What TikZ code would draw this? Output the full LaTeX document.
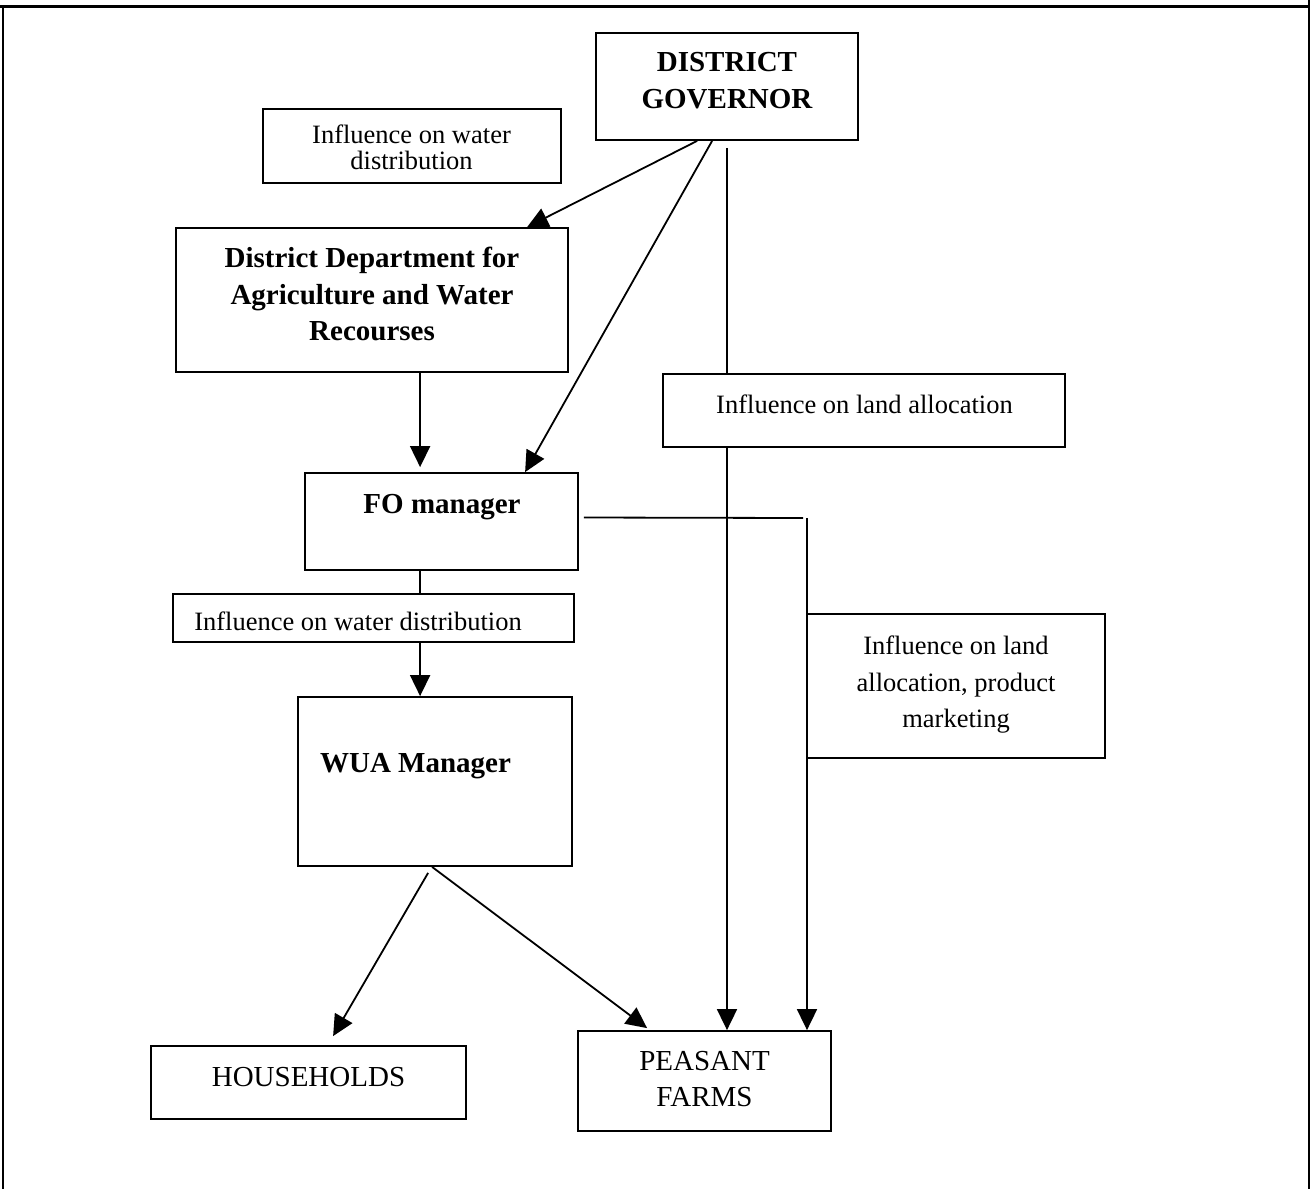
\documentclass[tikz,border=0pt]{standalone}
\usepackage{fontspec}
\setmainfont{Liberation Serif}
\usetikzlibrary{arrows.meta}

\tikzset{
  box/.style 2 args={draw, line width=1.8pt, inner sep=0pt,
    minimum width=#1, minimum height=#2},
  regtxt/.style={font=\fontsize{26.5}{25.7}\selectfont, inner sep=0pt},
  widetxt/.style={font=\fontsize{26.5}{36.5}\selectfont, inner sep=0pt},
  boldtxt/.style={font=\fontsize{29}{36.7}\selectfont\bfseries, inner sep=0pt},
  capstxt/.style={font=\fontsize{29}{36}\selectfont, inner sep=0pt},
  link/.style={line width=1.8pt},
  arr/.style={line width=1.8pt, -{Triangle[length=21pt,width=20pt]}},
}

\begin{document}
\begin{tikzpicture}[x=1pt,y=-1pt]
\useasboundingbox (0,0) rectangle (1311,1189);

% outer frame (open at the bottom)
\draw[line width=2.4pt] (0,6.5) -- (1309,6.5);
\draw[line width=1.8pt] (3,6.5) -- (3,1189);
\draw[line width=1.8pt] (1309,0) -- (1309,1189);

% boxes
\node[box={262pt}{107pt}] (gov)   at (727,86.5)   {};
\node[box={298pt}{74pt}]  (wtop)  at (412,146)    {};
\node[box={392pt}{144pt}] (dept)  at (372,300)    {};
\node[box={402pt}{73pt}]  (land)  at (864,410.5)  {};
\node[box={273pt}{97pt}]  (fo)    at (441.5,521.5){};
\node[box={401pt}{48pt}]  (water) at (373.5,618)  {};
\node[box={298pt}{144pt}] (prod)  at (956,686)    {};
\node[box={274pt}{169pt}] (wua)   at (435,781.5)  {};
\node[box={315pt}{73pt}]  (hh)    at (308.5,1082.5){};
\node[box={253pt}{100pt}] (pf)    at (704.5,1081) {};

% texts
\node[boldtxt, align=center, anchor=north] (govtxt) at (727,52) {DISTRICT\\GOVERNOR};
\node[regtxt, align=center, anchor=north] (wtoptxt) at (411.5,124.6) {Influence on water\\distribution};
\node[boldtxt, align=center, anchor=north] (depttxt) at (372,246.7) {District Department for\\Agriculture and Water\\Recourses};
\node[regtxt, anchor=base] (landtxt) at (864.5,413) {Influence on land allocation};
\node[boldtxt, anchor=base] (fotxt) at (442,513.7) {FO manager};
\node[regtxt, anchor=base] (watertxt) at (358,630.7) {Influence on water distribution};
\node[widetxt, align=center, anchor=north] (prodtxt) at (956,635.9) {Influence on land\\allocation, product\\marketing};
\node[boldtxt, anchor=base] (wuatxt) at (415.5,772) {WUA Manager};
\node[capstxt, anchor=base] (hhtxt) at (308.5,1086) {HOUSEHOLDS};
\node[capstxt, align=center, anchor=north] (pftxt) at (704.5,1051.5) {PEASANT\\FARMS};

% junction on the marketing line
\coordinate (mkt) at (807,518);

% connectors
\draw[arr] ([xshift=102pt]gov.south west) -- ([xshift=352pt]dept.north west);
\draw[arr] ([xshift=117pt]gov.south west) -- ([xshift=221pt]fo.north west);
\draw[link] ([yshift=-7pt]gov.south) -- (gov.south |- land.north);
\draw[arr] (gov.south |- land.south) -- (gov.south |- pf.north);
\draw[arr] ([xshift=245pt]dept.south west) -- ([xshift=116pt,yshift=5pt]fo.north west);
\draw[link] ([xshift=116pt]fo.south west) -- ([xshift=248pt]water.north west);
\draw[arr] ([xshift=248pt]water.south west) -- ([xshift=123pt]wua.north west);
\draw[link] ([xshift=5pt,yshift=4pt]fo.east) -- ([xshift=-4pt]mkt);
\draw[arr] (mkt) -- (mkt |- pf.north);
\draw[arr] ([xshift=131pt,yshift=-6pt]wua.south west) -- ([xshift=183pt,yshift=9pt]hh.north west);
\draw[arr] ([xshift=135pt]wua.south west) -- ([xshift=70pt,yshift=2pt]pf.north west);
\end{tikzpicture}
\end{document}
